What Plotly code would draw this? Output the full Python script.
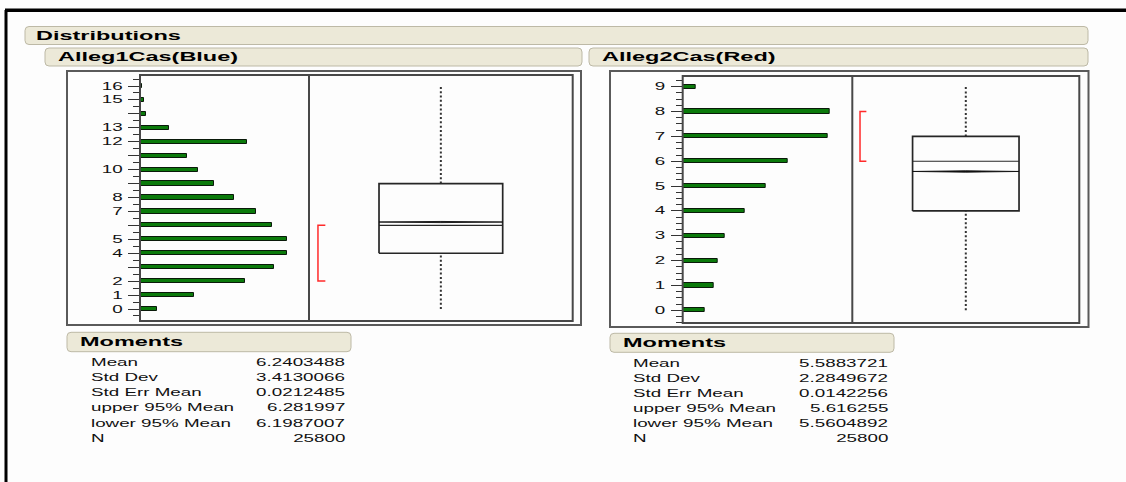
import numpy as np
import plotly.graph_objects as go

# ---------------- data ----------------
blue_values = list(range(17))
blue_counts = [340, 1100, 2135, 2715, 2975, 2975, 2675, 2350, 1910, 1505,
               1175, 955, 2170, 590, 120, 75, 35]
blue_tick_labels = ["0", "1", "2", "", "4", "5", "", "7", "8", "", "10", "",
                    "12", "13", "", "15", "16"]

red_values = list(range(10))
red_counts = [840, 1180, 1305, 1580, 2325, 3135, 3965, 5450, 5520, 500]
red_tick_labels = ["0", "1", "2", "3", "4", "5", "6", "7", "8", "9"]

# quantiles: minimum, Q1, median, Q3, maximum
blue_quantiles = [0, 4, 6, 9, 16]
red_quantiles = [0, 4, 6, 7, 9]
# shortest half (red bracket)
blue_shortest_half = [2, 6]
red_shortest_half = [6, 8]

moment_names = ["Mean", "Std Dev", "Std Err Mean", "upper 95% Mean",
                "lower 95% Mean", "N"]
blue_moments = ["6.2403488", "3.4130066", "0.0212485", "6.281997",
                "6.1987007", "25800"]
red_moments = ["5.5883721", "2.2849672", "0.0142256", "5.616255",
               "5.5604892", "25800"]

panel_titles = ["Alleg1Cas(Blue)", "Alleg2Cas(Red)"]
report_title = "Distributions"
moments_title = "Moments"

# ---------------- page geometry (pixels) ----------------
W, H = 1126, 482


def fx(p):
    return p / W


def fy(p):
    return 1 - p / H


def rounded_path(x0, y0, x1, y1, r=4):
    pts = [
        f"M{fx(x0 + r)},{fy(y0)}", f"L{fx(x1 - r)},{fy(y0)}",
        f"Q{fx(x1)},{fy(y0)} {fx(x1)},{fy(y0 + r)}", f"L{fx(x1)},{fy(y1 - r)}",
        f"Q{fx(x1)},{fy(y1)} {fx(x1 - r)},{fy(y1)}", f"L{fx(x0 + r)},{fy(y1)}",
        f"Q{fx(x0)},{fy(y1)} {fx(x0)},{fy(y1 - r)}", f"L{fx(x0)},{fy(y0 + r)}",
        f"Q{fx(x0)},{fy(y0)} {fx(x0 + r)},{fy(y0)}", "Z",
    ]
    return " ".join(pts)


HEADER_FILL = "#ECE9D8"
HEADER_LINE = "#BDB9A6"
FRAME = "#484848"
BAR_GREEN = "#0B7A0B"
TEXT = "#111111"
BODY_FONT = "Liberation Sans"

panels = [
    dict(title=panel_titles[0], values=blue_values, counts=blue_counts,
         ticklabels=blue_tick_labels, quant=blue_quantiles,
         short=blue_shortest_half, moments=blue_moments,
         outer=(67, 71, 581, 325), inner=(140, 75, 572.7, 321), split=309,
         zero_px=309, unit=13.9375, minor_step=0.5, hist_max=3427,
         header=(45, 48, 582, 66), title_x=57,
         mbar=(67, 332.3, 351, 351.7), mtitle_x=79, mlabel_x=90,
         mvalue_x=347.3, mrow0=362.5, axes=("", "2")),
    dict(title=panel_titles[1], values=red_values, counts=red_counts,
         ticklabels=red_tick_labels, quant=red_quantiles,
         short=red_shortest_half, moments=red_moments,
         outer=(610, 71, 1088.5, 327), inner=(682.7, 76, 1079.3, 323),
         split=852.3, zero_px=310.3, unit=24.844, minor_step=0.25,
         hist_max=6382, header=(589, 48, 1088, 66), title_x=601,
         mbar=(610, 333.3, 894, 352.3), mtitle_x=622, mlabel_x=632.3,
         mvalue_x=890, mrow0=363, axes=("3", "4")),
]

fig = go.Figure()
shapes = []
annotations = []
layout_axes = {}

# report frame lines and the "Distributions" header
shapes.append(dict(type="line", xref="paper", yref="paper", x0=fx(5), x1=1,
                   y0=fy(10.3), y1=fy(10.3), line=dict(color="black", width=3.5)))
shapes.append(dict(type="line", xref="paper", yref="paper", x0=fx(6), x1=fx(6),
                   y0=fy(10), y1=0, line=dict(color="black", width=3)))
shapes.append(dict(type="path", xref="paper", yref="paper", layer="below",
                   path=rounded_path(25, 26.5, 1088, 44.5),
                   fillcolor=HEADER_FILL, line=dict(color=HEADER_LINE, width=1)))
annotations.append(dict(text="<b>" + report_title + "</b>", xref="paper",
                        yref="paper", x=fx(34), y=fy(35.6), xanchor="left",
                        yanchor="middle", align="left", showarrow=False,
                        font=dict(family=BODY_FONT, size=12.5, color="black")))

for p in panels:
    hx, bx = p["axes"]
    xl, yt, xr, yb = p["inner"]
    y_lo = (p["zero_px"] - yb) / p["unit"]
    y_hi = (p["zero_px"] - yt) / p["unit"]
    ydom = [fy(yb), fy(yt)]
    hist_x = "x" + hx
    hist_y = "y" + hx
    box_x = "x" + bx
    box_y = "y" + bx

    # histogram bars
    fig.add_trace(go.Bar(
        x=p["counts"], y=p["values"], orientation="h",
        width=4.2 / p["unit"],
        marker=dict(color=BAR_GREEN, line=dict(color="#0a1a0a", width=1)),
        xaxis=hist_x, yaxis=hist_y, hoverinfo="skip", showlegend=False))

    minor_vals = [v for v in np.arange(-1, max(p["values"]) + 1, p["minor_step"])
                  if y_lo <= v <= y_hi and abs(v - round(v)) > 1e-9]

    layout_axes["xaxis" + hx] = dict(domain=[fx(xl), fx(p["split"])],
                                     range=[0, p["hist_max"]], visible=False,
                                     anchor=hist_y)
    layout_axes["yaxis" + hx] = dict(
        domain=ydom, range=[y_lo, y_hi], anchor=hist_x,
        tickmode="array", tickvals=p["values"], ticktext=p["ticklabels"],
        ticks="outside", ticklen=11, tickwidth=1.3, tickcolor="#333333",
        minor=dict(tickmode="array", tickvals=minor_vals, ticks="outside",
                   ticklen=6, tickwidth=1.2, tickcolor="#333333", showgrid=False),
        ticklabelstandoff=3,
        showgrid=False, zeroline=False, showline=False,
        tickfont=dict(family=BODY_FONT, size=10, color=TEXT))

    # box plot panel
    layout_axes["xaxis" + bx] = dict(domain=[fx(p["split"]), fx(xr)],
                                     range=[0, 1], visible=False, anchor=box_y)
    layout_axes["yaxis" + bx] = dict(domain=ydom, range=[y_lo, y_hi],
                                     visible=False, anchor=box_x)

    qmin, q1, med, q3, qmax = p["quant"]
    left, right, mid = 0.5 - 0.2345, 0.5 + 0.2345, 0.5
    mean = float(p["moments"][0])
    upper = float(p["moments"][3])
    lower = float(p["moments"][4])

    def line_trace(xs, ys, color, width, dash="solid", fill=None):
        fig.add_trace(go.Scatter(
            x=xs, y=ys, mode="lines", xaxis=box_x, yaxis=box_y,
            line=dict(color=color, width=width, dash=dash),
            fill=fill, fillcolor=color if fill else None,
            hoverinfo="skip", showlegend=False))

    # whiskers
    line_trace([mid, mid], [q3, qmax], "#333333", 2, dash="2px,2.3px")
    line_trace([mid, mid], [qmin, q1], "#333333", 2, dash="2px,2.3px")
    # box
    line_trace([left, right, right, left, left], [q1, q1, q3, q3, q1],
               "#262626", 1.7)
    # median
    line_trace([left, right], [med, med], "#262626", 1.2)
    # mean confidence diamond
    line_trace([left, mid, right, mid, left], [mean, upper, mean, lower, mean],
               "#111111", 0.9, fill="toself")
    # shortest half bracket
    s_lo, s_hi = p["short"]
    line_trace([0.062, 0.034, 0.034, 0.062], [s_hi, s_hi, s_lo, s_lo],
               "#FF2A2A", 1.5)

    # frames
    ox0, oy0, ox1, oy1 = p["outer"]
    shapes.append(dict(type="rect", xref="paper", yref="paper",
                       x0=fx(ox0), x1=fx(ox1), y0=fy(oy1), y1=fy(oy0),
                       line=dict(color="#5a5a5a", width=2)))
    shapes.append(dict(type="rect", xref="paper", yref="paper",
                       x0=fx(xl), x1=fx(xr), y0=fy(yb), y1=fy(yt),
                       line=dict(color=FRAME, width=2)))
    shapes.append(dict(type="line", xref="paper", yref="paper",
                       x0=fx(p["split"]), x1=fx(p["split"]), y0=fy(yb), y1=fy(yt),
                       line=dict(color=FRAME, width=2)))

    # panel header
    hx0, hy0, hx1, hy1 = p["header"]
    shapes.append(dict(type="path", xref="paper", yref="paper", layer="below",
                       path=rounded_path(hx0, hy0, hx1, hy1),
                       fillcolor=HEADER_FILL, line=dict(color=HEADER_LINE, width=1)))
    annotations.append(dict(text="<b>" + p["title"] + "</b>", xref="paper",
                            yref="paper", x=fx(p["title_x"] - 1),
                            y=fy((hy0 + hy1) / 2 + 0.3), xanchor="left",
                            yanchor="middle", align="left", showarrow=False,
                            font=dict(family=BODY_FONT, size=12.5, color="black")))

    # moments table
    mx0, my0, mx1, my1 = p["mbar"]
    shapes.append(dict(type="path", xref="paper", yref="paper", layer="below",
                       path=rounded_path(mx0, my0, mx1, my1),
                       fillcolor=HEADER_FILL, line=dict(color=HEADER_LINE, width=1)))
    annotations.append(dict(text="<b>" + moments_title + "</b>", xref="paper",
                            yref="paper", x=fx(p["mtitle_x"] - 1),
                            y=fy((my0 + my1) / 2 + 0.3), xanchor="left",
                            yanchor="middle", align="left", showarrow=False,
                            font=dict(family=BODY_FONT, size=12.5, color="black")))
    for i, (name, val) in enumerate(zip(moment_names, p["moments"])):
        yrow = fy(p["mrow0"] + 15.15 * i)
        annotations.append(dict(text=name, xref="paper", yref="paper",
                                x=fx(p["mlabel_x"] - 1), y=yrow, xanchor="left",
                                yanchor="middle", align="left", showarrow=False,
                                font=dict(family=BODY_FONT, size=10, color=TEXT)))
        annotations.append(dict(text=val, xref="paper", yref="paper",
                                x=fx(p["mvalue_x"] + 1), y=yrow, xanchor="right",
                                yanchor="middle", align="right", showarrow=False,
                                font=dict(family=BODY_FONT, size=10, color=TEXT)))

fig.update_layout(
    width=W, height=H, margin=dict(l=0, r=0, t=0, b=0),
    paper_bgcolor="#FDFDFD", plot_bgcolor="rgba(0,0,0,0)",
    showlegend=False, shapes=shapes, annotations=annotations,
    bargap=0, **layout_axes)

# The report uses a wide, horizontally stretched type face: widen every
# text element about its own anchor point.
stretch_js = """
var gd = document.getElementById('{plot_id}');
var s = 1.88;
gd.querySelectorAll('text').forEach(function(t){
  var b;
  try { b = t.getBBox(); } catch (e) { return; }
  if (!b || !b.width) return;
  var a = t.getAttribute('text-anchor') || window.getComputedStyle(t).textAnchor || 'start';
  var ax = a === 'end' ? b.x + b.width : (a === 'middle' ? b.x + b.width / 2 : b.x);
  var tr = t.getAttribute('transform') || '';
  t.setAttribute('transform', tr + ' translate(' + (ax * (1 - s)) + ',0) scale(' + s + ',1)');
});
"""

fig.write_html("out.html", config={"displayModeBar": False},
               post_script=stretch_js)
